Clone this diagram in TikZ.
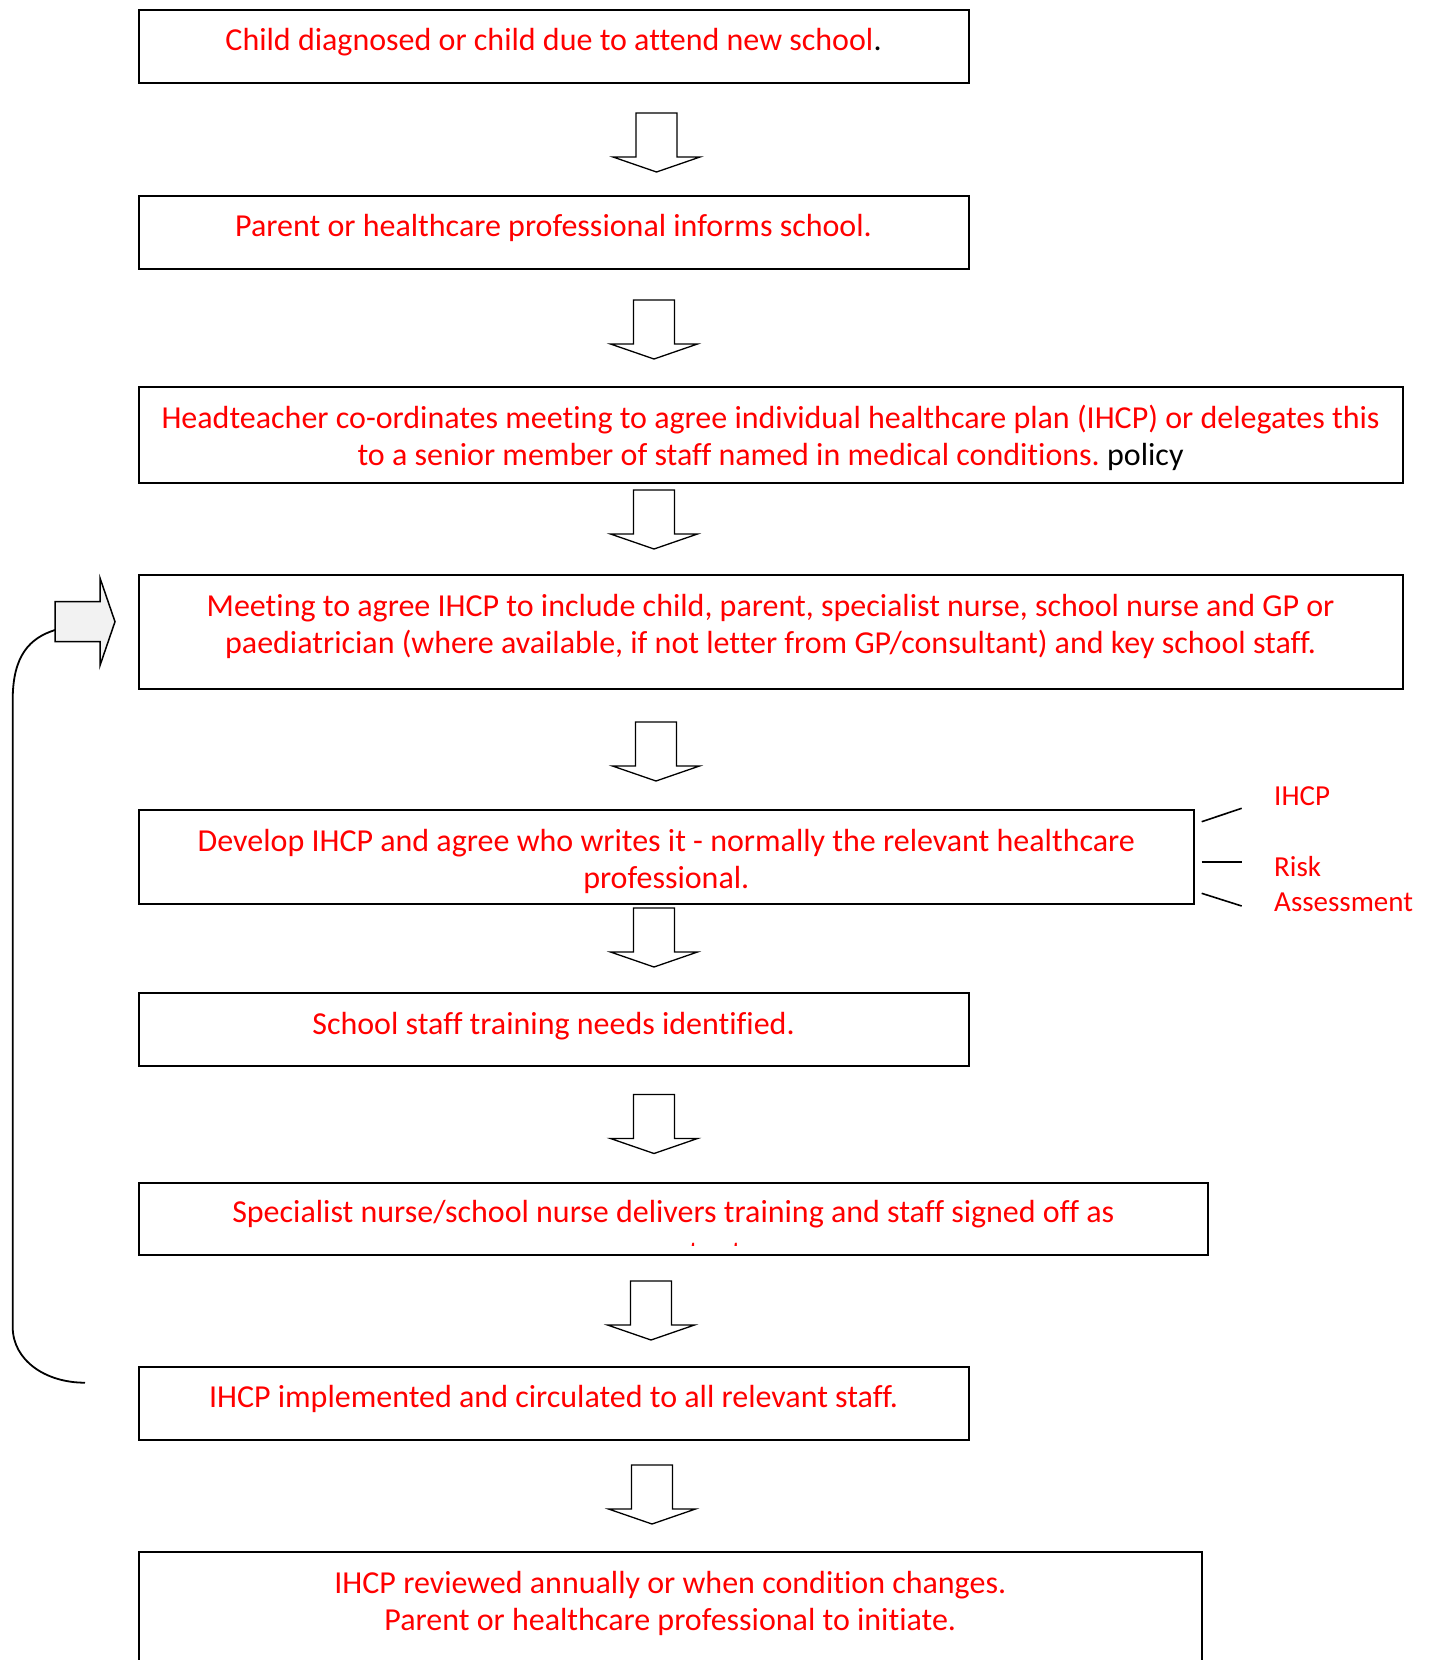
\documentclass[tikz,border=0pt]{standalone}
\usepackage{fontspec}
\setmainfont[Ligatures=NoCommon]{Carlito}
\begin{document}
\begin{tikzpicture}[x=1pt,y=-1pt,
  box/.style={draw=black, line width=2pt, anchor=north west, inner sep=0pt},
  txt/.style={text=red, anchor=base, inner sep=0pt, font=\fontsize{32}{37}\selectfont},
  side/.style={text=red, anchor=base west, inner sep=0pt, font=\fontsize{29}{35}\selectfont},
  arrowline/.style={draw=black, line width=1.3pt, line join=miter, fill=white},
  darrow/.pic={\path[arrowline] (-20.5,0) -- (20.5,0) -- (20.5,44) -- (43.5,44) -- (0,59) -- (-43.5,44) -- (-20.5,44) -- cycle;},
  conn/.style={draw=black, line width=1.8pt},
  sidel/.style={draw=black, line width=1.6pt}
]
\clip (0,0) rectangle (1430,1660);

% boxes
\node[box, minimum width=829.9pt, minimum height=73pt] (b1) at (137.6,8.5) {};
\node[box, minimum width=829.9pt, minimum height=73pt] (b2) at (137.6,195) {};
\node[box, minimum width=1263.9pt, minimum height=96pt] (b3) at (137.6,386) {};
\node[box, minimum width=1263.9pt, minimum height=114pt] (b4) at (137.6,574) {};
\node[box, minimum width=1055.4pt, minimum height=94pt] (b5) at (137.6,809) {};
\node[box, minimum width=829.9pt, minimum height=73pt] (b6) at (137.6,992) {};
\node[box, minimum width=1069.4pt, minimum height=72pt] (b7) at (137.6,1181.5) {};
\node[box, minimum width=829.9pt, minimum height=73pt] (b8) at (137.6,1365.5) {};
\node[box, minimum width=1063.4pt, minimum height=140pt] (b9) at (137.6,1551) {};

% texts
\node[txt] (t1) at ([yshift=-41.5pt]b1.north) {Child diagnosed or child due to attend new school\textcolor{black}{.}};
\node[txt] (t2) at ([yshift=-41.5pt]b2.north) {Parent or healthcare professional informs school.};
\node[txt] (t3a) at ([yshift=-42pt]b3.north) {Headteacher co-ordinates meeting to agree individual healthcare plan (IHCP) or delegates this};
\node[txt] (t3b) at ([yshift=-79pt]b3.north) {to a senior member of staff named in medical conditions.\ \textcolor{black}{policy}};
\node[txt] (t4a) at ([yshift=-42pt]b4.north) {Meeting to agree IHCP to include child, parent, specialist nurse, school nurse and GP or};
\node[txt] (t4b) at ([yshift=-79pt]b4.north) {paediatrician (where available, if not letter from GP/consultant) and key school staff.};
\node[txt] (t5a) at ([yshift=-42pt]b5.north) {Develop IHCP and agree who writes it - normally the relevant healthcare};
\node[txt] (t5b) at ([yshift=-79pt]b5.north) {professional.};
\node[txt] (t6) at ([yshift=-42pt]b6.north) {School staff training needs identified.};
\node[txt] (t7a) at ([yshift=-41pt]b7.north) {Specialist nurse/school nurse delivers training and staff signed off as};
\begin{scope}
  \clip (140,1230) rectangle (1200,1245);
  \node[txt] (t7b) at ([xshift=2pt,yshift=-82pt]b7.north) {competent.};
\end{scope}
\node[txt] (t8) at ([yshift=-41.5pt]b8.north) {IHCP implemented and circulated to all relevant staff.};
\node[txt] (t9a) at ([yshift=-42pt]b9.north) {IHCP reviewed annually or when condition changes.};
\node[txt] (t9b) at ([yshift=-79pt]b9.north) {Parent or healthcare professional to initiate.};

% down block arrows
\pic at (656.5,113) {darrow};
\pic at (654,300) {darrow};
\pic at (654,490) {darrow};
\pic at (656,722) {darrow};
\pic at (654,908) {darrow};
\pic at (654,1094.5) {darrow};
\pic at (651,1281) {darrow};
\pic at (652,1465) {darrow};

% side lines and labels
\coordinate (s1a) at (1201.7,821.7); \coordinate (s1b) at (1241.7,808.3);
\coordinate (s2a) at (1201.7,861.7); \coordinate (s2b) at (1241.7,861.7);
\coordinate (s3a) at (1201.7,893.3); \coordinate (s3b) at (1241.7,906);
\draw[sidel] (s1a) -- (s1b);
\draw[sidel] (s2a) -- (s2b);
\draw[sidel] (s3a) -- (s3b);
\node[side] (l1) at (1274,805) {IHCP};
\node[side] (l2) at (1274,876.7) {Risk};
\node[side] (l3) at (1274,911.7) {Assessment};

% loop-back connector with block arrow
\coordinate (la) at (55,630);
\coordinate (lb) at (85,1382.7);
\draw[conn] (lb) .. controls (45,1382.7) and (12.7,1360) .. (12.7,1327) -- (12.7,700) .. controls (12.7,655) and (30,638) .. (la);
\path[draw=black, line width=1.5pt, fill=black!5, line join=miter]
  (55,601.7) -- (100,601.7) -- (100,578) -- (115,621.7) -- (100,665.5) -- (100,641.7) -- (55,641.7) -- cycle;
\end{tikzpicture}
\end{document}
